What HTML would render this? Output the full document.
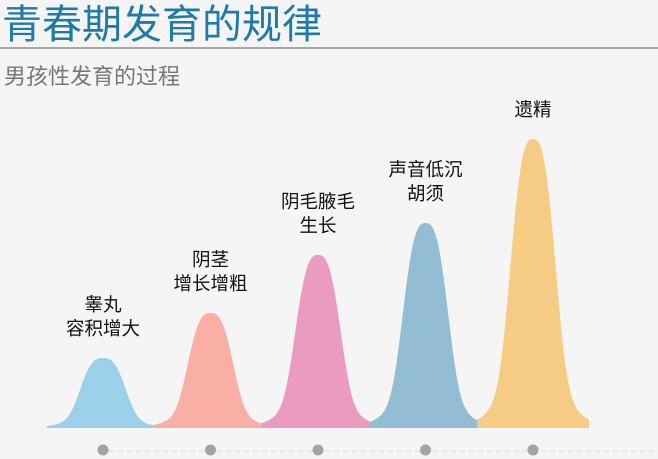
<!DOCTYPE html>
<html><head><meta charset="utf-8"><style>
body{margin:0;background:#f5f5f5;}
svg{display:block;font-family:"Liberation Sans","Noto Sans CJK SC",sans-serif;}
</style></head><body>
<svg width="658" height="459" viewBox="0 0 658 459">
<rect width="658" height="459" fill="#f5f5f5"/>
<text x="2" y="38" font-size="40" fill="#1f7aa8">青春期发育的规律</text>
<line x1="0" y1="48" x2="658" y2="48" stroke="#a8a8a8" stroke-width="2"/>
<text x="4" y="84" font-size="22" fill="#777">男孩性发育的过程</text>
<line x1="100" y1="451" x2="655" y2="451" stroke="#ddd" stroke-width="1" stroke-dasharray="5,4"/>
<g id="peaks"></g>
</svg>
<script>
const categories=["睾丸|容积增大","阴茎|增长增粗","阴毛腋毛|生长","声音低沉|胡须","遗精"];
const heights=[70,115,173,205,289];
const colors=["#9bd0e8","#f9afa4","#eb9bc0","#93bdd3","#f6cc85"];
const base=428, x0=103, step=107.5;
const xs=i=>x0+i*step;
const ys=v=>base-v;
const g=document.getElementById('peaks');
const NS="http://www.w3.org/2000/svg";
function f(dx){const a=Math.abs(dx);return 0.8*Math.exp(-Math.pow(a/26,3))+0.2*Math.exp(-Math.pow(a/40,2));}
categories.forEach((c,i)=>{
  const cx=xs(i),h=heights[i];
  let d=`M${cx-56},${base}`;
  for(let dx=-56;dx<=56;dx+=1){d+=` L${cx+dx},${(base-h*f(dx)).toFixed(2)}`;}
  d+=` L${cx+56},${base} Z`;
  const p=document.createElementNS(NS,'path');
  p.setAttribute('d',d);p.setAttribute('fill',colors[i]);
  
  
  g.appendChild(p);
  const dot=document.createElementNS(NS,'circle');
  dot.setAttribute('cx',cx);dot.setAttribute('cy',450);dot.setAttribute('r',5.5);dot.setAttribute('fill','#a3a3a3');
  
  
  g.appendChild(dot);
  const lines=c.split('|');
  const top=ys(h);
  lines.forEach((t,j)=>{
    const tx=document.createElementNS(NS,'text');
    tx.setAttribute('x',cx);tx.setAttribute('y',top-23-(lines.length-1-j)*24);
    tx.setAttribute('text-anchor','middle');tx.setAttribute('font-size','18.5');tx.setAttribute('fill','#111');
    tx.textContent=t;
    
    
    g.appendChild(tx);
  });
});
</script>
</body></html>
